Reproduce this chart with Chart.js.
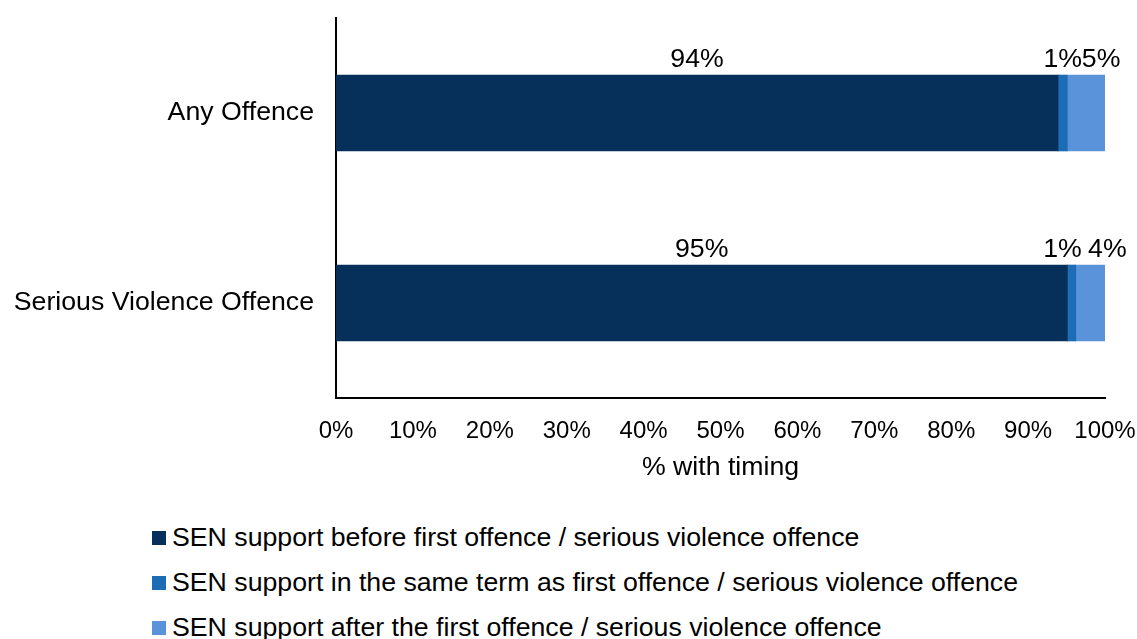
<!DOCTYPE html>
<html><head><meta charset="utf-8">
<script src="https://cdn.jsdelivr.net/npm/chart.js@4.4.1/dist/chart.umd.min.js"></script>
<style>
html,body{margin:0;padding:0;background:#fff;}
#wrap{position:relative;width:1137px;height:639px;font-family:"Liberation Sans",Arial,sans-serif;}
#c{position:absolute;left:0;top:0;}
#legend{position:absolute;left:152px;top:515px;}
.li{display:flex;align-items:center;height:45px;font-size:26.7px;color:#000;white-space:nowrap;}
.sw{width:14px;height:14px;margin-right:6px;}
</style></head>
<body><div id="wrap"><canvas id="c" width="1137" height="490"></canvas><div id="legend"></div></div>
<script>
const categories = ["Any Offence", "Serious Violence Offence"];
const seriesNames = [
  "SEN support before first offence / serious violence offence",
  "SEN support in the same term as first offence / serious violence offence",
  "SEN support after the first offence / serious violence offence"
];
const beforeValues = [93.9, 95.1];
const sameTermValues = [1.2, 1.1];
const afterValues = [4.9, 3.8];
const beforeLabels = ["94%", "95%"];
const sameTermLabels = ["1%", "1%"];
const afterLabels = ["5%", "4%"];
const xTicks = [0,10,20,30,40,50,60,70,80,90,100];
const colors = ["#06305a", "#1d6db6", "#5b93db"];

const FONT = '"Liberation Sans", Arial, sans-serif';
const labelSets = [beforeLabels, sameTermLabels, afterLabels];

// Small nudges (px) so the labels of the narrow segments do not collide
const nudge = [[0, 0], [0, -9], [15, 17]];

const labelPlugin = {
  id: 'segLabels',
  afterDatasetsDraw(chart) {
    const ctx = chart.ctx;
    ctx.save();
    ctx.font = '26.7px ' + FONT;
    ctx.fillStyle = '#000';
    ctx.textAlign = 'center';
    ctx.textBaseline = 'alphabetic';
    chart.data.datasets.forEach((ds, di) => {
      const meta = chart.getDatasetMeta(di);
      meta.data.forEach((bar, i) => {
        const p = bar.getProps(['x','y','base','height'], true);
        const cx = (p.x + p.base) / 2 + nudge[di][i];
        const top = p.y - p.height / 2;
        ctx.fillText(labelSets[di][i], cx, top - 8);
      });
    });
    ctx.restore();
  }
};

const chart = new Chart(document.getElementById('c'), {
  type: 'bar',
  data: {
    labels: categories,
    datasets: [
      { label: seriesNames[0], data: beforeValues, backgroundColor: colors[0] },
      { label: seriesNames[1], data: sameTermValues, backgroundColor: colors[1] },
      { label: seriesNames[2], data: afterValues, backgroundColor: colors[2] }
    ]
  },
  options: {
    indexAxis: 'y',
    responsive: false,
    animation: false,
    maintainAspectRatio: false,
    layout: { padding: { top: 18, right: 32, left: 0, bottom: 0 } },
    datasets: { bar: { barThickness: 76 } },
    plugins: { legend: { display: false }, tooltip: { enabled: false } },
    scales: {
      x: {
        stacked: true, min: 0, max: 100,
        afterBuildTicks(scale) { scale.ticks = xTicks.map(v => ({ value: v })); },
        ticks: { callback: v => v + '%', color: '#000', font: { size: 24, family: FONT }, padding: 19, maxRotation: 0, autoSkip: false },
        grid: { display: false, drawTicks: false },
        border: { display: true, color: '#000', width: 2 },
        title: { display: true, text: '% with timing', color: '#000', font: { size: 26.7, family: FONT }, padding: { top: 4, bottom: 6 } },
        afterFit(scale) { scale.height = 92; scale.paddingLeft = 0; scale.paddingRight = 0; }
      },
      y: {
        stacked: true,
        ticks: { color: '#000', font: { size: 26.7, family: FONT }, padding: 22 },
        grid: { display: false, drawTicks: false },
        border: { display: true, color: '#000', width: 2 },
        afterFit(scale) { scale.width = 336; scale.paddingTop = 0; scale.paddingBottom = 0; }
      }
    }
  },
  plugins: [labelPlugin]
});

const leg = document.getElementById('legend');
chart.data.datasets.forEach(ds => {
  const d = document.createElement('div'); d.className = 'li';
  const s = document.createElement('span'); s.className = 'sw'; s.style.background = ds.backgroundColor;
  const t = document.createElement('span'); t.textContent = ds.label;
  d.appendChild(s); d.appendChild(t); leg.appendChild(d);
});
</script></body></html>
